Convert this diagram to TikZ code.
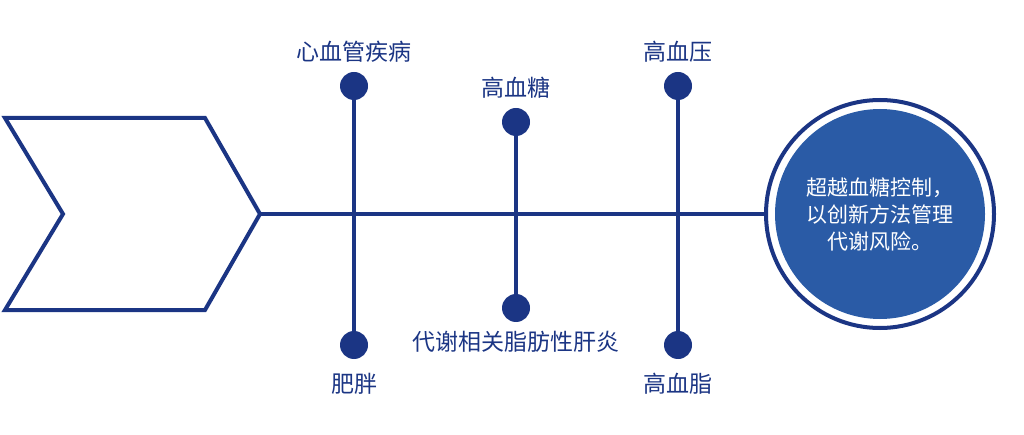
\documentclass[tikz,border=0pt]{standalone}
\usepackage{fontspec}
\setmainfont{Noto Sans CJK SC}
\usetikzlibrary{positioning}
\definecolor{navy}{HTML}{1B3584}
\definecolor{disc}{HTML}{2A5BA6}

\begin{document}
\begin{tikzpicture}[x=1pt,y=-1pt,{bone/.style={navy,line width=4pt}},{dot/.style={circle,fill=navy,inner sep=0pt,minimum size=28pt}},{lab/.style={text=navy,font=\fontsize{23}{26}\selectfont}}]
	\useasboundingbox (0,0) rectangle (1024,435);
	%%chevron
	\draw [bone,line join=miter] (5,118) -- (205,118) -- (260,214) -- (205,310) -- (5,310) -- (63,214) -- cycle;
	%%goal circle
	\coordinate (T) at (260,214);
	\node [circle,draw=navy,line width=4pt,minimum size=228pt,inner sep=0pt] (ring) at (880,214) {};
	\node [circle,fill=disc,minimum size=210pt,inner sep=0pt,align=center,text=white,font=\fontsize{21}{27}\selectfont] (goal) at (880,214) {超越血糖控制，\\以创新方法管理\\代谢风险。};
	\draw [bone] (T) -- (ring.west);
	%%ribs
	\node [dot] (d1) at (354,86) {};
	\node [dot] (d2) at (354,345) {};
	\node [dot] (d3) at (516,122) {};
	\node [dot] (d4) at (516,308) {};
	\node [dot] (d5) at (678,86) {};
	\node [dot] (d6) at (678,345) {};
	\draw [bone] (d1) -- (d2);
	\draw [bone] (d3) -- (d4);
	\draw [bone] (d5) -- (d6);
	%%labels
	\node [lab,above=6pt of d1] (l1) {心血管疾病};
	\node [lab,below=10pt of d2] (l2) {肥胖};
	\node [lab,above=6pt of d3] (l3) {高血糖};
	\node [lab,below=5pt of d4] (l4) {代谢相关脂肪性肝炎};
	\node [lab,above=6pt of d5] (l5) {高血压};
	\node [lab,below=10pt of d6] (l6) {高血脂};
\end{tikzpicture}
\end{document}
